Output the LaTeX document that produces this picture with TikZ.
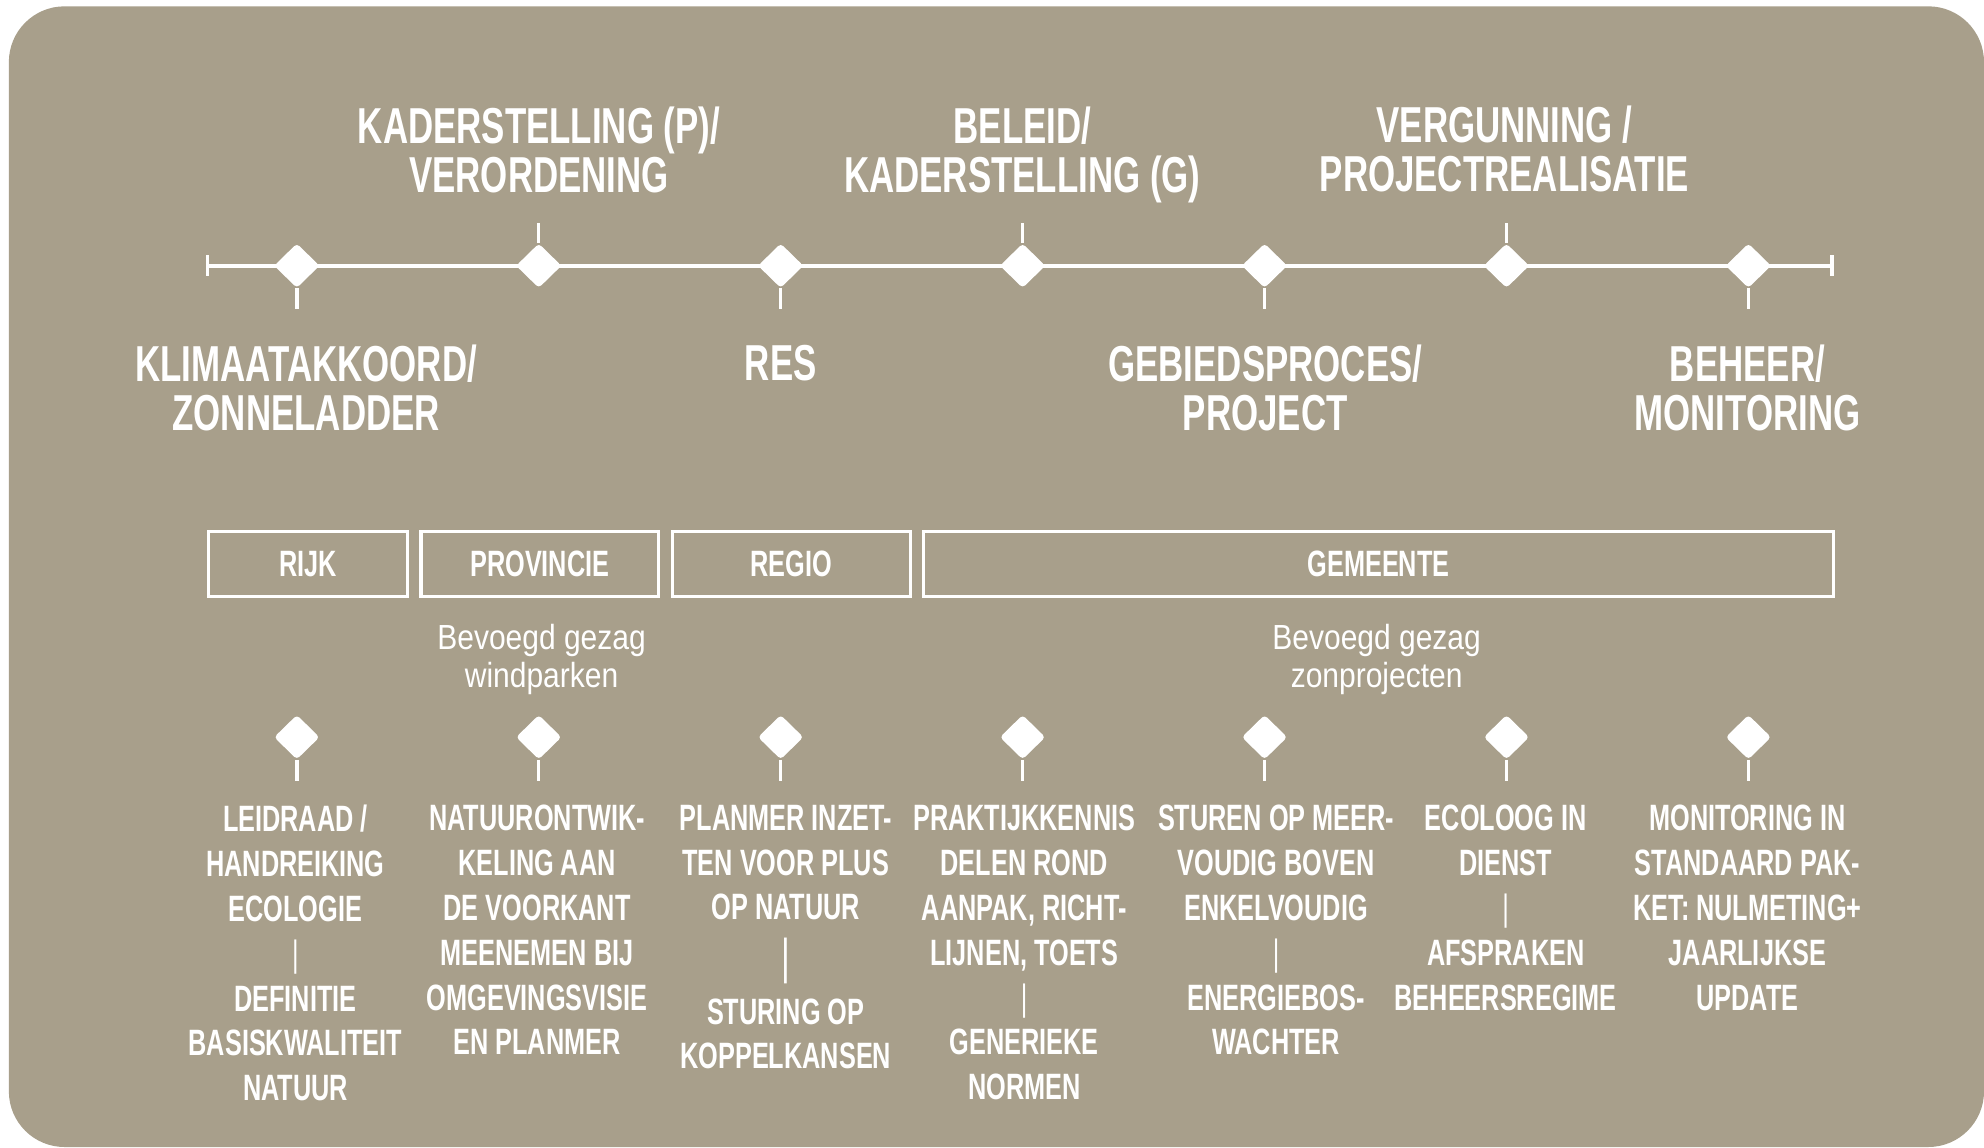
\documentclass[tikz,border=0pt]{standalone}
\usepackage{fontspec}
\setmainfont{Liberation Sans}
\newfontfamily\smalfont{Liberation Sans}[FakeStretch=0.69]
\newfontfamily\dunfont{Liberation Sans}[FakeStretch=0.86]
\usetikzlibrary{positioning}
\usetikzlibrary{shapes.geometric}
\definecolor{taupe}{RGB}{168,159,139}
\newcommand{\streep}{{\mdseries |}}

\begin{document}
\begin{tikzpicture}[x=0.025cm, y=-0.025cm, node distance=0.2cm,
        mijlpaal/.style={diamond, fill=white, inner sep=0pt, minimum width=0.9cm, minimum height=0.88cm, rounded corners=2pt},
        kop/.style={anchor=north, inner sep=0pt, align=center, text=white, font=\smalfont\bfseries\fontsize{28.4pt}{27.6pt}\selectfont},
        kader/.style={rectangle, draw=white, line width=1.9pt, minimum height=1.28cm, text=white, font=\smalfont\bfseries\fontsize{20.6pt}{24pt}\selectfont},
        actie/.style={anchor=north, inner sep=0pt, align=center, text=white, font=\smalfont\bfseries\fontsize{20.6pt}{25.2pt}\selectfont},
        gezag/.style={anchor=north, inner sep=0pt, align=center, text=white, font=\dunfont\fontsize{19.6pt}{21.7pt}\selectfont},
        lijn/.style={white, line width=2.3pt},
        tik/.style={white, line width=1.9pt}
        ]
        \useasboundingbox (0,0) rectangle (1568,906.5);
        \fill[white] (0,0) rectangle (1568,906.5);
        \fill[taupe, rounded corners=1.1cm] (7,5) rectangle (1568,906.5);

        \coordinate (start) at (164,210);
        \coordinate (eind) at (1448,210);
        \draw[lijn] (start) -- (eind);
        \draw[tik] ([yshift=0.21cm]start) -- ([yshift=-0.21cm]start);
        \draw[tik] ([yshift=0.21cm]eind) -- ([yshift=-0.21cm]eind);

        \node (klim)   [mijlpaal] at (234.6,210)  {};
        \node (kad)    [mijlpaal] at (425.8,210)  {};
        \node (res)    [mijlpaal] at (617.0,210)  {};
        \node (bel)    [mijlpaal] at (808.2,210)  {};
        \node (gebied) [mijlpaal] at (999.4,210)  {};
        \node (verg)   [mijlpaal] at (1190.6,210) {};
        \node (beheer) [mijlpaal] at (1381.8,210) {};
        \coordinate (klim-t)   at (234.6,244);
        \coordinate (kad-t)    at (425.8,176);
        \coordinate (res-t)    at (617.0,244);
        \coordinate (bel-t)    at (808.2,176);
        \coordinate (gebied-t) at (999.4,244);
        \coordinate (verg-t)   at (1190.6,176);
        \coordinate (beheer-t) at (1381.8,244);
        \draw[tik] (klim) -- (klim-t);
        \draw[tik] (kad) -- (kad-t);
        \draw[tik] (res) -- (res-t);
        \draw[tik] (bel) -- (bel-t);
        \draw[tik] (gebied) -- (gebied-t);
        \draw[tik] (verg) -- (verg-t);
        \draw[tik] (beheer) -- (beheer-t);

        \node (kadtxt)  [kop] at (426,84.3)   {KADERSTELLING (P)/\\VERORDENING};
        \node (beltxt)  [kop] at (808,84.3)   {BELEID/\\KADERSTELLING (G)};
        \node (vergtxt) [kop] at (1189,83.5)  {VERGUNNING /\\PROJECTREALISATIE};
        \node (klimtxt) [kop] at (242,272.4)  {KLIMAATAKKOORD/\\ZONNELADDER};
        \node (restxt)  [kop] at (617,272.4)  {RES};
        \node (gebtxt)  [kop] at (1000,272.4) {GEBIEDSPROCES/\\PROJECT};
        \node (behtxt)  [kop] at (1381,272.4) {BEHEER/\\MONITORING};

        \node (rijk)  [kader, minimum width=3.93cm] at (243.3,445.8) {RIJK};
        \node (prov)  [kader, minimum width=4.70cm, right=of rijk]  {PROVINCIE};
        \node (regio) [kader, minimum width=4.70cm, right=of prov]  {REGIO};
        \node (gem)   [kader, minimum width=17.97cm, right=of regio] {GEMEENTE};

        \node (wind) [gezag] at (428,492.7)  {Bevoegd gezag\\windparken};
        \node (zon)  [gezag] at (1088,492.7) {Bevoegd gezag\\zonprojecten};

        \node (m1) [mijlpaal] at (234.6,582.6)  {};
        \node (m2) [mijlpaal] at (425.8,582.6)  {};
        \node (m3) [mijlpaal] at (617.0,582.6)  {};
        \node (m4) [mijlpaal] at (808.2,582.6)  {};
        \node (m5) [mijlpaal] at (999.4,582.6)  {};
        \node (m6) [mijlpaal] at (1190.6,582.6) {};
        \node (m7) [mijlpaal] at (1381.8,582.6) {};
        \coordinate (m1-t) at (234.6,617.4);
        \coordinate (m2-t) at (425.8,617.4);
        \coordinate (m3-t) at (617.0,617.4);
        \coordinate (m4-t) at (808.2,617.4);
        \coordinate (m5-t) at (999.4,617.4);
        \coordinate (m6-t) at (1190.6,617.4);
        \coordinate (m7-t) at (1381.8,617.4);
        \draw[tik] (m1) -- (m1-t);
        \draw[tik] (m2) -- (m2-t);
        \draw[tik] (m3) -- (m3-t);
        \draw[tik] (m4) -- (m4-t);
        \draw[tik] (m5) -- (m5-t);
        \draw[tik] (m6) -- (m6-t);
        \draw[tik] (m7) -- (m7-t);

        \node (a1) [actie] at (233.5,636)  {LEIDRAAD /\\HANDREIKING\\ECOLOGIE\\\streep\\DEFINITIE\\BASISKWALITEIT\\NATUUR};
        \node (a2) [actie] at (424.5,636)  {NATUURONTWIK-\\KELING AAN\\DE VOORKANT\\MEENEMEN BIJ\\OMGEVINGSVISIE\\EN PLANMER};
        \node (a3) [actie] at (621,636)    {PLANMER INZET-\\TEN VOOR PLUS\\OP NATUUR\\[4.7pt]{\fontsize{27.5pt}{27.5pt}\selectfont\streep}\\[3.4pt]STURING OP\\KOPPELKANSEN};
        \node (a4) [actie] at (809.5,636)  {PRAKTIJKKENNIS\\DELEN ROND\\AANPAK, RICHT-\\LIJNEN, TOETS\\\streep\\GENERIEKE\\NORMEN};
        \node (a5) [actie] at (1008.5,636) {STUREN OP MEER-\\VOUDIG BOVEN\\ENKELVOUDIG\\\streep\\ENERGIEBOS-\\WACHTER};
        \node (a6) [actie] at (1190,636)   {ECOLOOG IN\\DIENST\\\streep\\AFSPRAKEN\\BEHEERSREGIME};
        \node (a7) [actie] at (1381,636)   {MONITORING IN\\STANDAARD PAK-\\KET: NULMETING+\\JAARLIJKSE\\UPDATE};
    \end{tikzpicture}
\end{document}
